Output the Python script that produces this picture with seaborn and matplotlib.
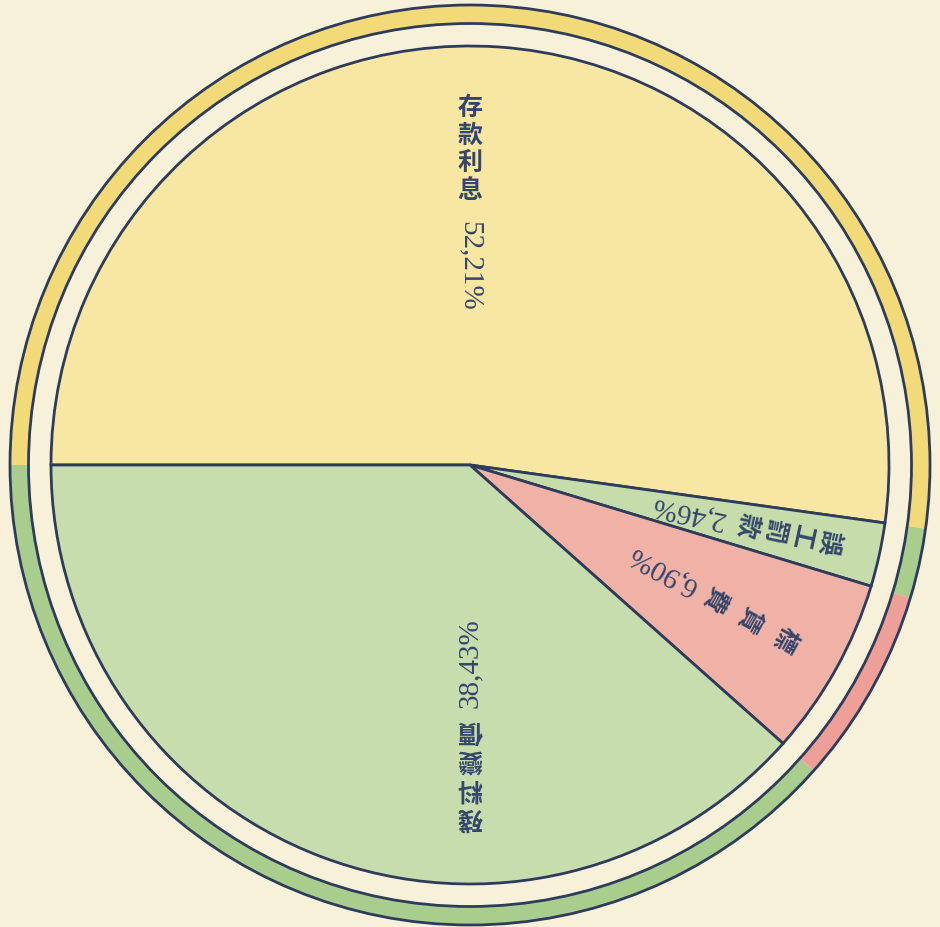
import numpy as np
import matplotlib
matplotlib.use("Agg")
import matplotlib.pyplot as plt
from matplotlib.patches import Circle
import seaborn as sns


# data
labels = ["存款利息", "誤工罰款", "標賃費", "殘料變價"]
shares = [52.21, 2.46, 6.90, 38.43]
pct_text = [f"{v:.2f}%".replace(".", ",") for v in shares]

# colours
pie_colors = ["#f7e7a3", "#c6dcab", "#f0b2a7", "#c8ddad"]
ring_colors = ["#f3da78", "#a9cd8c", "#ee9f97", "#a9cd8c"]
paper = "#f8f1da"
ink = "#2e3c5c"
text_ink = "#34466b"

# label layout (polar, pixels from centre)
label_angle = [90, -12.2, -28.8, -90]
first_r = [357, 367, 359, 352]
char_step = [27.5, 28, 40, 29]
num_r = [199, 223, 219, 198]

PIE_R = 419
RING_OUT = 460
RING_IN = 441.5

sns.set_style("white")
plt.rcParams["font.family"] = ["Noto Sans CJK TC", "DejaVu Sans"]


def vertical_label(ax, chars, pct, angle, r0, step, rn):
    """Vertical text along a radius, reading inward toward the centre"""
    a = np.deg2rad(angle)
    ux, uy = np.cos(a), np.sin(a)
    char_rot = angle - 90
    for i, ch in enumerate(chars):
        r = r0 - i * step
        ax.text(r * ux, r * uy, ch, rotation=char_rot, ha="center", va="center",
                fontsize=18, fontweight="bold", color=text_ink,
                rotation_mode="anchor")
    num_rot = angle + 180
    ax.text(rn * ux, rn * uy, pct, rotation=num_rot, ha="center", va="center",
            fontsize=21, color=text_ink, family=["Liberation Serif"],
            rotation_mode="anchor")


fig = plt.figure(figsize=(9.4, 9.27), dpi=100, facecolor=paper)
ax = fig.add_axes([0, 0, 1, 1])
ax.set_facecolor(paper)

# outer ring
ax.pie(shares, colors=ring_colors, startangle=180, counterclock=False,
       radius=RING_OUT, center=(0, 0),
       wedgeprops=dict(width=RING_OUT - RING_IN, linewidth=0))
for r in (RING_OUT, RING_IN):
    ax.add_patch(Circle((0, 0), r, fill=False, ec=ink, lw=2))

# main pie
ax.pie(shares, colors=pie_colors, startangle=180, counterclock=False,
       radius=PIE_R, center=(0, 0),
       wedgeprops=dict(edgecolor=ink, linewidth=2))

for i in range(len(labels)):
    vertical_label(ax, labels[i], pct_text[i], label_angle[i],
                   first_r[i], char_step[i], num_r[i])

ax.set_xlim(-470, 470)
ax.set_ylim(-462, 465)
ax.set_aspect("equal")
ax.axis("off")

fig.savefig("out.png", dpi=100, facecolor=paper)
